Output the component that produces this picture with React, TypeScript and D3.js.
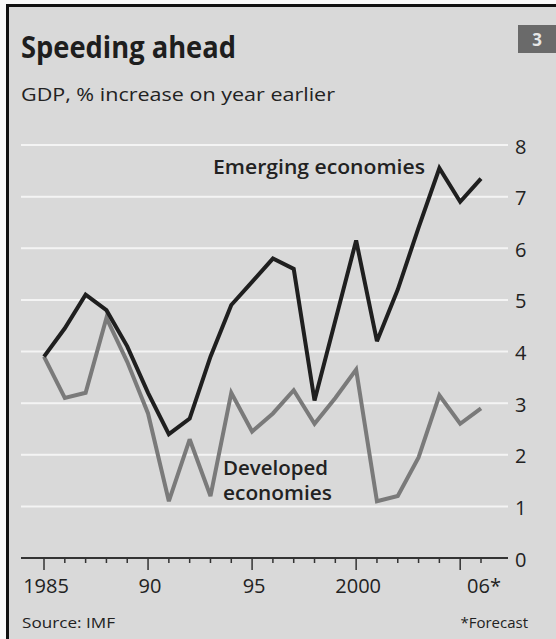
import React from "react";
import * as d3 from "d3";

// GDP growth, % increase on year earlier
const years = [
  1985, 1986, 1987, 1988, 1989, 1990, 1991, 1992, 1993, 1994, 1995,
  1996, 1997, 1998, 1999, 2000, 2001, 2002, 2003, 2004, 2005, 2006,
];
const emerging = [
  3.9, 4.45, 5.1, 4.8, 4.1, 3.2, 2.4, 2.7, 3.9, 4.9, 5.35,
  5.8, 5.6, 3.05, 4.6, 6.15, 4.2, 5.2, 6.4, 7.55, 6.9, 7.35,
];
const developed = [
  3.9, 3.1, 3.2, 4.65, 3.8, 2.8, 1.1, 2.3, 1.2, 3.2, 2.45,
  2.8, 3.25, 2.6, 3.1, 3.65, 1.1, 1.2, 1.95, 3.15, 2.6, 2.9,
];
const yTicks = [0, 1, 2, 3, 4, 5, 6, 7, 8];
const majorTickYears = [1985, 1990, 1995, 2000, 2005];
const xLabelYears = [1985, 1990, 1995, 2000, 2006];
const xLabels = ["1985", "90", "95", "2000", "06*"];

const W = 556;
const H = 639;
const FONT = "'Open Sans', 'DejaVu Sans', sans-serif";

export default function App() {
  const x = d3.scaleLinear().domain([1985, 2006]).range([44, 481]);
  const y = d3.scaleLinear().domain([0, 8]).range([558, 145]);

  const line = d3
    .line<number>()
    .x((_, i) => x(years[i]))
    .y((d) => y(d));

  const gridLeft = 21;
  const gridRight = 508;

  return (
    <svg
      width={W}
      height={H}
      viewBox={`0 0 ${W} ${H}`}
      style={{ position: "absolute", left: 0, top: 0, background: "#fafafa" }}
    >
      {/* panel with frame on top and left */}
      <rect x={7.5} y={5.5} width={W} height={H} fill="#d9d9d9" />
      <line x1={7.5} y1={5.5} x2={W} y2={5.5} stroke="#111" strokeWidth={3} />
      <line x1={7.5} y1={4} x2={7.5} y2={H} stroke="#111" strokeWidth={3} />

      {/* chart number box */}
      <rect x={518} y={25} width={40} height={28} fill="#6a6a6a" />
      <text
        x={537}
        y={39}
        fill="#e6e6e6"
        fontFamily={FONT}
        fontWeight={700}
        fontSize={17}
        textAnchor="middle"
        dominantBaseline="central"
      >
        3
      </text>

      {/* title and subtitle */}
      <text
        x={21}
        y={58}
        fill="#1e1e1e"
        fontFamily={FONT}
        fontWeight={700}
        fontSize={30}
        textLength={215}
        lengthAdjust="spacingAndGlyphs"
      >
        Speeding ahead
      </text>
      <text
        x={21}
        y={101}
        fill="#222"
        fontFamily={FONT}
        fontSize={18}
        textLength={314}
        lengthAdjust="spacingAndGlyphs"
      >
        GDP, % increase on year earlier
      </text>

      {/* horizontal gridlines */}
      {yTicks
        .filter((t) => t > 0)
        .map((t) => (
          <line
            key={`g${t}`}
            x1={gridLeft}
            x2={gridRight}
            y1={y(t)}
            y2={y(t)}
            stroke="#f4f4f4"
            strokeWidth={2}
          />
        ))}

      {/* y-axis labels on the right */}
      {yTicks.map((t) => (
        <text
          key={`yl${t}`}
          x={515}
          y={y(t) + 1}
          fill="#222"
          fontFamily={FONT}
          fontSize={20}
          dominantBaseline="central"
        >
          {t}
        </text>
      ))}

      {/* baseline axis with yearly ticks */}
      <line
        x1={gridLeft}
        x2={gridRight}
        y1={y(0)}
        y2={y(0)}
        stroke="#333"
        strokeWidth={2}
      />
      {years.map((yr) => (
        <line
          key={`t${yr}`}
          x1={x(yr)}
          x2={x(yr)}
          y1={y(0)}
          y2={y(0) + (majorTickYears.includes(yr) ? 12 : 5)}
          stroke="#333"
          strokeWidth={1.5}
        />
      ))}
      {xLabelYears.map((yr, i) => (
        <text
          key={`xl${yr}`}
          x={x(yr) + (i === 4 ? 3 : 2)}
          y={593}
          fill="#222"
          fontFamily={FONT}
          fontSize={20}
          textAnchor="middle"
        >
          {xLabels[i]}
        </text>
      ))}

      {/* series */}
      <path
        d={line(developed) ?? ""}
        fill="none"
        stroke="#7a7a7a"
        strokeWidth={4}
        strokeLinejoin="miter"
        strokeMiterlimit={3}
      />
      <path
        d={line(emerging) ?? ""}
        fill="none"
        stroke="#1f1f1f"
        strokeWidth={4}
        strokeLinejoin="miter"
        strokeMiterlimit={3}
      />

      {/* series labels */}
      <text
        x={213}
        y={174}
        fill="#222"
        fontFamily={FONT}
        fontWeight={600}
        fontSize={19}
        textLength={212}
        lengthAdjust="spacingAndGlyphs"
      >
        Emerging economies
      </text>
      <text
        x={223}
        y={475}
        fill="#222"
        fontFamily={FONT}
        fontWeight={600}
        fontSize={19}
        textLength={105}
        lengthAdjust="spacingAndGlyphs"
      >
        Developed
      </text>
      <text
        x={223}
        y={500}
        fill="#222"
        fontFamily={FONT}
        fontWeight={600}
        fontSize={19}
        textLength={109}
        lengthAdjust="spacingAndGlyphs"
      >
        economies
      </text>

      {/* footer */}
      <text
        x={22}
        y={628}
        fill="#222"
        fontFamily={FONT}
        fontSize={15}
        textLength={93}
        lengthAdjust="spacingAndGlyphs"
      >
        Source: IMF
      </text>
      <text
        x={528}
        y={628}
        fill="#222"
        fontFamily={FONT}
        fontSize={15}
        textAnchor="end"
      >
        *Forecast
      </text>
    </svg>
  );
}
